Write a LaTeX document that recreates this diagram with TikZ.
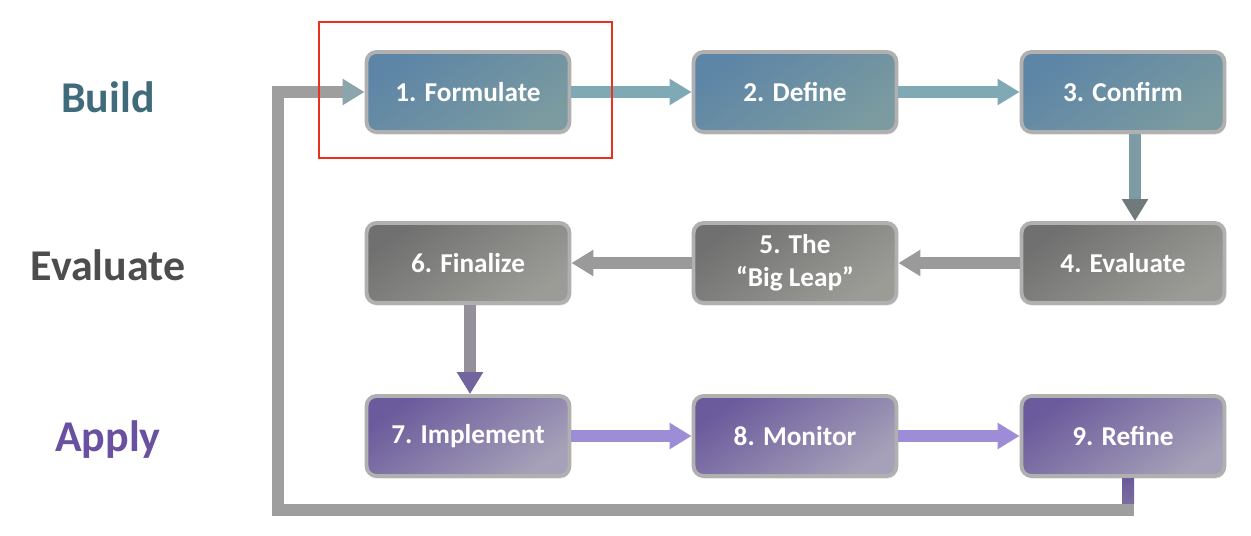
\documentclass[tikz,border=0pt]{standalone}
\usepackage{fontspec}
\setmainfont{Carlito}
\usetikzlibrary{arrows.meta,shadows,calc}
\definecolor{rowAa}{HTML}{5D85A6}
\definecolor{rowAb}{HTML}{7B9BA0}
\definecolor{rowBa}{HTML}{707070}
\definecolor{rowBb}{HTML}{9C9C97}
\definecolor{rowCa}{HTML}{6B5A9C}
\definecolor{rowCb}{HTML}{A6A1B8}
\definecolor{boxborder}{HTML}{B0B0B0}
\definecolor{arrA}{HTML}{80A9B6}
\definecolor{arrB}{HTML}{9A9A9A}
\definecolor{arrC}{HTML}{9D8CD6}
\definecolor{loopgray}{HTML}{9E9E9E}
\definecolor{lblA}{HTML}{3F6B7A}
\definecolor{lblB}{HTML}{4D4D4D}
\definecolor{lblC}{HTML}{6A50A0}
\definecolor{redframe}{HTML}{E8321E}
\begin{document}
\begin{tikzpicture}[x=0.02cm,y=-0.02cm,
  stepbox/.style={rounded corners=5.7pt, draw=boxborder, line width=2.2pt,
    minimum width=4.06cm, minimum height=1.6cm, text=white, align=center,
    font=\fontsize{15.5}{19}\selectfont\bfseries,
    drop shadow={shadow xshift=0.5pt, shadow yshift=-1.5pt, opacity=0.25}},
  buildbox/.style={stepbox, shading=axis, top color=rowAa, bottom color=rowAb, shading angle=35},
  evalbox/.style={stepbox, shading=axis, top color=rowBa, bottom color=rowBb, shading angle=35},
  applybox/.style={stepbox, shading=axis, top color=rowCa, bottom color=rowCb, shading angle=35},
  conn/.style={line width=6.8pt, -{Triangle[width=14.2pt,length=12.5pt]}},
  lbl/.style={font=\fontsize{25}{29}\selectfont\bfseries}
]
\useasboundingbox (0,0) rectangle (1251,536);
% labels
\node[lbl, text=lblA] (lb1) at (108,97) {Build};
\node[lbl, text=lblB] (lb2) at (108,265) {Evaluate};
\node[lbl, text=lblC] (lb3) at (108,440) {Apply};
% boxes
\node[buildbox] (b1) at (468,92) {1. Formulate};
\node[buildbox] (b2) at (795,92) {2. Define};
\node[buildbox] (b3) at (1123,92) {3. Confirm};
\node[evalbox] (b4) at (1123,263) {4. Evaluate};
\node[evalbox] (b5) at (795,263) {5. The\\“Big Leap”};
\node[evalbox] (b6) at (468,263) {6. Finalize};
\node[applybox] (b7) at (468,436) {7. Implement};
\node[applybox] (b8) at (795,436) {8. Monitor};
\node[applybox] (b9) at (1123,436) {9. Refine};
% connectors
\draw[conn, arrA] (b1) -- (b2);
\draw[conn, arrA] (b2) -- (b3);
\draw[line width=6.8pt, draw=arrA!75!rowBa, -{Triangle[width=14.2pt,length=12.5pt,color=rowBa!85!arrA,fill=rowBa!85!arrA]}]
  ($(b3.south)+(12,0)$) -- ($(b4.north)+(12,0)$);
\draw[conn, arrB] (b4) -- (b5);
\draw[conn, arrB] (b5) -- (b6);
\draw[line width=6.8pt, draw=arrB!85!rowCa, -{Triangle[width=14.2pt,length=12.5pt,color=rowCa!85!arrB,fill=rowCa!85!arrB]}]
  ($(b6.south)+(2,0)$) -- ($(b7.north)+(2,0)$);
\draw[conn, arrC] (b7) -- (b8);
\draw[conn, arrC] (b8) -- (b9);
% feedback loop
\coordinate (lc) at (278,510);
\draw[line width=6.8pt, loopgray, line join=miter, -{Triangle[width=14.2pt,length=12.5pt,color=arrA!60!loopgray,fill=arrA!60!loopgray]}]
  ($(b9.south)+(5,0)$) |- (lc) |- (b1.west);
\shade[top color=rowCa, bottom color=rowCa!70!loopgray] ($(b9.south)+(-1,1)$) rectangle ($(b9.south)+(11,504-478)$);
% highlight frame
\draw[redframe, line width=1.2pt] (319,22) rectangle (612,158);
\end{tikzpicture}
\end{document}
